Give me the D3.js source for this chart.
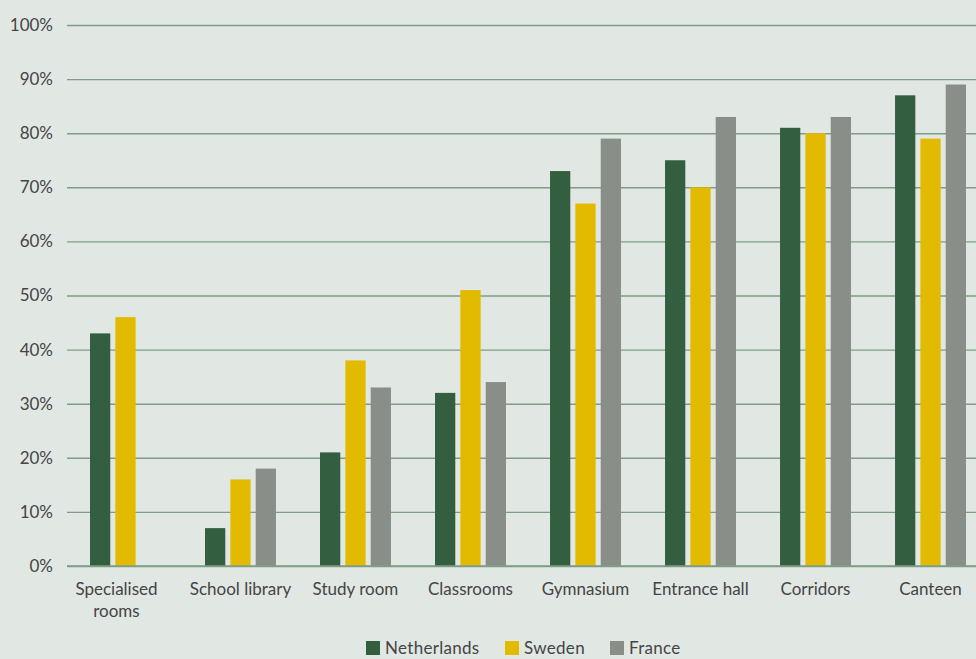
<!DOCTYPE html>
<html>
<head>
<meta charset="utf-8">
<script src="https://cdn.jsdelivr.net/npm/d3@7"></script>
<style>
  html, body { margin: 0; padding: 0; background: #e1e8e4; }
  svg { display: block; }
  text { font-family: Lato, "Open Sans", sans-serif; fill: #444; }
</style>
</head>
<body>
<svg id="chart" width="976" height="659"></svg>
<script>
// Share of schools per space type, by country (%)
const categories = ["Specialised rooms", "School library", "Study room", "Classrooms",
                    "Gymnasium", "Entrance hall", "Corridors", "Canteen"];
const seriesNames = ["Netherlands", "Sweden", "France"];
const netherlands = [43, 7, 21, 32, 73, 75, 81, 87];
const sweden      = [46, 16, 38, 51, 67, 70, 80, 79];
const france      = [null, 18, 33, 34, 79, 83, 83, 89];
const yTicks = [0, 10, 20, 30, 40, 50, 60, 70, 80, 90, 100];
const colors = ["#335e40", "#e2ba00", "#8a8e89"];

const seriesValues = [netherlands, sweden, france];
const svg = d3.select("#chart");
const W = 976, H = 659;
const plotLeft = 67, plotTop = 25, plotBottom = 566;

const y = d3.scaleLinear().domain([0, 100]).range([plotBottom, plotTop]);
const x0 = d3.scaleBand().domain(categories).range([plotLeft, 989])
  .paddingInner(0.383).paddingOuter(0.2);
const x1 = d3.scaleBand().domain(seriesNames).range([0, x0.bandwidth()])
  .paddingInner(0.2).paddingOuter(0);
const color = d3.scaleOrdinal().domain(seriesNames).range(colors);

// gridlines + y labels
const yAxis = d3.axisLeft(y).tickValues(yTicks).tickFormat(d => d + "%")
  .tickSize(-(W - plotLeft)).tickPadding(14);
const gy = svg.append("g").attr("transform", `translate(${plotLeft},0)`).call(yAxis);
gy.select(".domain").remove();
gy.selectAll(".tick line").attr("stroke", "#7f9c85").attr("stroke-width", 1.4);
gy.selectAll(".tick text").attr("font-size", 17).attr("fill", "#444")
  .attr("font-family", "Lato, 'Open Sans', sans-serif").attr("x", -14);

// bars
const groups = svg.append("g").selectAll("g").data(categories).join("g")
  .attr("transform", d => `translate(${x0(d)},0)`);
groups.selectAll("rect")
  .data((c, i) => seriesNames.map((s, k) => ({ s, v: seriesValues[k][i] })).filter(d => d.v != null))
  .join("rect")
  .attr("x", d => x1(d.s))
  .attr("width", x1.bandwidth())
  .attr("y", d => y(d.v))
  .attr("height", d => y(0) - y(d.v))
  .attr("fill", d => color(d.s));

// baseline drawn over bars
svg.append("line").attr("x1", plotLeft).attr("x2", W).attr("y1", y(0)).attr("y2", y(0))
  .attr("stroke", "#7f9c85").attr("stroke-width", 1.4);

// category labels (wrapped on two lines where given)
const xLabelLines = { "Specialised rooms": ["Specialised", "rooms"] };
const gx = svg.append("g");
categories.forEach(c => {
  const lines = xLabelLines[c] || [c];
  const cx = x0(c) + x0.bandwidth() / 2 - (lines.length > 1 ? 9 : 0);
  const t = gx.append("text").attr("text-anchor", "middle").attr("font-size", 17)
    .attr("x", cx).attr("y", 595);
  lines.forEach((ln, i) => t.append("tspan")
    .attr("x", cx).attr("dy", i === 0 ? 0 : 22).text(ln));
});

// legend
const legendPos = [366, 505, 610];
const lg = svg.append("g");
seriesNames.forEach((s, i) => {
  lg.append("rect").attr("x", legendPos[i]).attr("y", 641).attr("width", 14).attr("height", 14)
    .attr("fill", color(s));
  lg.append("text").attr("x", legendPos[i] + 19).attr("y", 654).attr("font-size", 17)
    .attr("letter-spacing", 0.3).text(s);
});
</script>
</body>
</html>
